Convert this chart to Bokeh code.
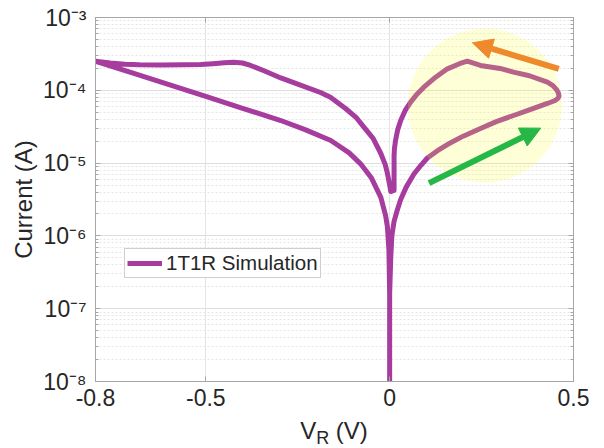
from bokeh.plotting import figure
from bokeh.layouts import column
from bokeh.models import (FixedTicker, CustomJSTickFormatter, LogAxis, LinearAxis, LogTicker,
                          Legend, LegendItem, Arrow, NormalHead, ColumnDataSource, Div)
from bokeh.embed import file_html
from bokeh.resources import INLINE

# ---------------- data (V in volts, log10 of current in A) ----------
set_v = [0.000, 0.003, 0.006, 0.012, 0.021, 0.030, 0.045, 0.066, 0.085, 0.1025, 0.130, 0.157,
         0.200, 0.247, 0.290, 0.337, 0.380, 0.429, 0.450, 0.458]
set_logi = [-6.79, -6.30, -6.00, -5.80, -5.64, -5.50, -5.33, -5.15, -5.03, -4.93, -4.83, -4.745,
            -4.63, -4.525, -4.43, -4.346, -4.27, -4.181, -4.14, -4.11]

ret_v = [0.4605, 0.459, 0.454, 0.444, 0.429, 0.380, 0.337, 0.300, 0.247, 0.211, 0.190,
         0.157, 0.125, 0.093, 0.075, 0.057, 0.042, 0.030, 0.022, 0.016, 0.013, 0.012, 0.012]
ret_logi = [-4.08, -4.04, -3.99, -3.935, -3.889, -3.80, -3.751, -3.70, -3.659, -3.600,
            -3.635, -3.705, -3.82, -3.957, -4.05, -4.163, -4.28, -4.415, -4.54, -4.69, -4.80,
            -4.90, -5.376]

neg_up_v = [0.003, 0.000, -0.006, -0.012, -0.024, -0.045, -0.070, -0.090, -0.120, -0.161, -0.188,
            -0.250, -0.296, -0.340, -0.378, -0.400, -0.424, -0.450, -0.480, -0.514, -0.560,
            -0.620, -0.680, -0.720, -0.760, -0.800]
neg_up_logi = [-5.39, -5.30, -5.143, -5.02, -4.868, -4.66, -4.507, -4.38, -4.25, -4.095, -4.030,
               -3.915, -3.830, -3.735, -3.659, -3.625, -3.614, -3.622, -3.635, -3.646, -3.650,
               -3.652, -3.650, -3.642, -3.625, -3.600]

neg_dn_v = [-0.700, -0.600, -0.500, -0.400, -0.296, -0.230, -0.160, -0.110, -0.079, -0.050,
            -0.024, -0.011, -0.006, -0.002, 0.000, 0.000]
neg_dn_logi = [-3.762, -3.923, -4.085, -4.247, -4.415, -4.54, -4.69, -4.86, -5.01, -5.20,
               -5.47, -5.72, -5.88, -6.20, -6.80, -9.0]

x_ticks = [-0.8, -0.5, 0, 0.5]
series_name = "1T1R Simulation"
x_label_html = 'V<sub style="font-size:18px; vertical-align:-5px; line-height:0">R</sub> (V)'

# highlight circle & arrows (annotation anchors, V / A)
circle_v, circle_i = [0.259], [10 ** -4.209]
orange_tail = (0.460, 1.97e-4)
orange_head = (0.225, 4.49e-4)
green_tail = (0.107, 5.3e-6)
green_head = (0.411, 3.02e-5)

# ------------------------------------------------------------------------------------------
v_all = set_v + ret_v + neg_up_v + neg_dn_v
i_all = [10 ** l for l in (set_logi + ret_logi + neg_up_logi + neg_dn_logi)]
src = ColumnDataSource(data=dict(v=v_all, i=i_all))

FONT = "Liberation Sans"
TXT = "#262626"
AX = "#A6A6A6"

p = figure(frame_width=478, frame_height=364, x_range=(-0.8, 0.5), y_range=(1e-8, 1e-3),
           y_axis_type="log", output_backend="svg", toolbar_location=None,
           min_border_left=95, min_border_right=31, min_border_top=17, min_border_bottom=38)
p.background_fill_color = "white"
p.border_fill_color = "white"
p.outline_line_color = AX
p.outline_line_width = 1

# grids
p.xgrid.ticker = FixedTicker(ticks=x_ticks)
p.xgrid.grid_line_color = "#E4E4E4"
p.ygrid.grid_line_color = "#DEDEDE"
p.ygrid.minor_grid_line_color = "#E6E6E6"
p.ygrid.minor_grid_line_dash = "2 2"

# x axis
xa = p.xaxis[0]
xa.ticker = FixedTicker(ticks=x_ticks)
xa.formatter = CustomJSTickFormatter(code="return Math.abs(tick) < 1e-9 ? '0' : tick.toFixed(1);")
xa.major_label_text_font = FONT
xa.major_label_text_font_size = "23px"
xa.major_label_text_color = TXT
xa.major_label_standoff = 7
xa.axis_line_color = AX
xa.major_tick_line_color = AX
xa.major_tick_in = 5
xa.major_tick_out = 0
xa.minor_tick_line_color = None

# y axis
ya = p.yaxis[0]
ya.ticker = LogTicker(num_minor_ticks=10)
ya.formatter = CustomJSTickFormatter(code="""
const sup = {'-':'\u207B','0':'\u2070','1':'\u00B9','2':'\u00B2','3':'\u00B3','4':'\u2074',
             '5':'\u2075','6':'\u2076','7':'\u2077','8':'\u2078','9':'\u2079'};
const e = Math.round(Math.log10(tick));
return '10' + String(e).split('').map(c => sup[c]).join('');
""")
ya.major_label_text_font = FONT
ya.major_label_text_font_size = "23px"
ya.major_label_text_color = TXT
ya.major_label_standoff = 9
ya.axis_line_color = AX
ya.major_tick_line_color = AX
ya.minor_tick_line_color = AX
ya.major_tick_in = 5
ya.major_tick_out = 0
ya.minor_tick_in = 3
ya.minor_tick_out = 0
ya.axis_label = "Current (A)"
ya.axis_label_text_font = FONT
ya.axis_label_text_font_size = "24px"
ya.axis_label_text_font_style = "normal"
ya.axis_label_text_color = TXT
ya.axis_label_standoff = 3

# right / top box axes (ticks only, labels not drawn)
ra = LogAxis(ticker=LogTicker(num_minor_ticks=10), major_label_text_font_size="1px",
             major_label_text_color=None, major_label_standoff=0, axis_line_color=AX,
             major_tick_line_color=AX, minor_tick_line_color=AX, major_tick_in=5,
             major_tick_out=0, minor_tick_in=3, minor_tick_out=0)
p.add_layout(ra, "right")
ta = LinearAxis(ticker=FixedTicker(ticks=x_ticks), major_label_text_font_size="1px",
                major_label_text_color=None, major_label_standoff=0, axis_line_color=AX,
                major_tick_line_color=AX, minor_tick_line_color=None, major_tick_in=5,
                major_tick_out=0)
p.add_layout(ta, "above")

# curve
r = p.line("v", "i", source=src, line_color="#A53C9E", line_width=5, line_join="round")

# highlight circle (drawn over the curve, translucent)
p.scatter(x=circle_v, y=circle_i, marker="circle", size=154, fill_color="#FFFF37",
          fill_alpha=0.2, line_color=None)

# arrows
p.add_layout(Arrow(x_start=orange_tail[0], y_start=orange_tail[1], x_end=orange_head[0],
                   y_end=orange_head[1], line_color="#EE8A2C", line_width=6,
                   end=NormalHead(size=20, fill_color="#EE8A2C", line_color="#EE8A2C")))
p.add_layout(Arrow(x_start=green_tail[0], y_start=green_tail[1], x_end=green_head[0],
                   y_end=green_head[1], line_color="#26B847", line_width=6,
                   end=NormalHead(size=20, fill_color="#26B847", line_color="#26B847")))

# legend
leg = Legend(items=[LegendItem(label=series_name, renderers=[r])], location=(29, 103),
             label_text_font=FONT, label_text_font_size="20.5px", label_text_color=TXT,
             glyph_width=35, glyph_height=16, label_standoff=4, padding=2, margin=0,
             spacing=0, border_line_color="#A0A0A0", border_line_width=1,
             background_fill_color="white", background_fill_alpha=1)
p.add_layout(leg)

# x axis label V_R (V) as HTML text under the plot
xlabel = Div(text=x_label_html, width=478, height=29, margin=(0, 0, 0, 95),
             styles={"text-align": "center", "font-family": FONT, "font-size": "24px",
                     "color": TXT, "line-height": "24px"})

layout = column(p, xlabel, spacing=0)
open("out.html", "w").write(file_html(layout, INLINE))
